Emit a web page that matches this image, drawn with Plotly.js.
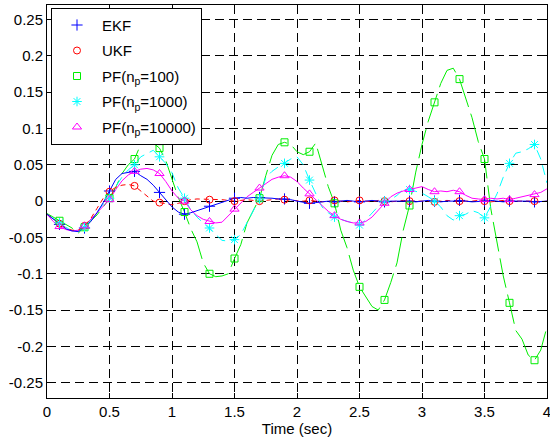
<!DOCTYPE html>
<html>
<head>
<meta charset="utf-8">
<script src="https://cdn.plot.ly/plotly-3.0.1.min.js"></script>
<style>
  html, body { margin: 0; padding: 0; background: #fff; }
  #chart { width: 550px; height: 440px; }
</style>
</head>
<body>
<div id="chart"></div>
<script>
// sample step of the read-off series (seconds)
const DT = 0.05;

const ekf = [
  -0.018, -0.025, -0.032, -0.038, -0.041, -0.042, -0.037, -0.028, -0.016, -0.002,
   0.014,  0.030,  0.038,  0.040,  0.041,  0.035,  0.030,  0.022,  0.012,  0.002,
  -0.008, -0.015, -0.018, -0.016, -0.013, -0.010, -0.007, -0.004, -0.001,  0.002,
   0.004,  0.005,  0.004,  0.005,  0.005,  0.004,  0.004,  0.003,  0.003,  0.002,
   0.000, -0.002, -0.003, -0.002, -0.001,  0.000, -0.001,  0.000,  0.001,  0.000,
  -0.001,  0.000,  0.001,  0.000, -0.001,  0.000,  0.000,  0.001,  0.000, -0.001,
   0.000,  0.001,  0.000, -0.001,  0.000,  0.000,  0.001,  0.000, -0.001, -0.001,
   0.000,  0.001,  0.000, -0.001,  0.000,  0.000,  0.001,  0.000, -0.001,  0.000,
   0.000
];

const ukf = [
  -0.018, -0.024, -0.031, -0.037, -0.040, -0.040, -0.034, -0.024, -0.010,  0.004,
   0.013,  0.019,  0.022,  0.023,  0.021,  0.014,  0.006,  0.000, -0.002, -0.004,
  -0.005, -0.003,  0.000,  0.002,  0.003,  0.003,  0.002,  0.003,  0.002,  0.001,
   0.000,  0.001,  0.002,  0.001,  0.000,  0.001,  0.002,  0.003,  0.002,  0.001,
   0.001,  0.000,  0.001,  0.000, -0.001,  0.000,  0.001,  0.000, -0.001,  0.000,
   0.001,  0.000, -0.001,  0.001,  0.000, -0.001,  0.000,  0.001,  0.000,  0.000,
   0.001,  0.000, -0.001,  0.000,  0.001,  0.000,  0.000, -0.001,  0.000,  0.001,
   0.000, -0.001,  0.000,  0.001,  0.000,  0.000,  0.001,  0.000,  0.000, -0.001,
   0.000
];

const pf100 = [
  -0.017, -0.022, -0.027, -0.031, -0.037, -0.044, -0.036, -0.027, -0.019, -0.008,
   0.004,  0.019,  0.038,  0.050,  0.058,  0.078,  0.085,  0.080,  0.073,  0.056,
   0.032,  0.005, -0.015, -0.038, -0.056, -0.085, -0.100, -0.104, -0.103, -0.100,
  -0.079, -0.060, -0.030, -0.012,  0.004,  0.035,  0.063,  0.078,  0.081,  0.078,
   0.068,  0.064,  0.068,  0.080,  0.050,  0.020, -0.003, -0.040, -0.064, -0.095,
  -0.118, -0.132, -0.145, -0.150, -0.136, -0.112, -0.085, -0.040, -0.006,  0.040,
   0.078,  0.110,  0.136,  0.162,  0.180,  0.183,  0.168,  0.142,  0.115,  0.082,
   0.058, -0.010, -0.056, -0.103, -0.140, -0.178, -0.190, -0.212, -0.219, -0.205,
  -0.173
];

const pf1000 = [
  -0.018, -0.024, -0.030, -0.036, -0.040, -0.041, -0.036, -0.026, -0.015, -0.004,
   0.004,  0.020,  0.033,  0.043,  0.050,  0.061,  0.066,  0.070,  0.061,  0.052,
   0.039,  0.018,  0.004, -0.012, -0.022, -0.030, -0.037, -0.045, -0.054, -0.055,
  -0.053, -0.046, -0.030, -0.012,  0.003,  0.032,  0.041,  0.047,  0.052,  0.058,
   0.061,  0.050,  0.029,  0.010, -0.008, -0.016, -0.022, -0.025, -0.028, -0.030,
  -0.033, -0.026, -0.016, -0.007,  0.000,  0.002,  0.008,  0.016,  0.016,  0.013,
   0.011,  0.006,  0.000, -0.008, -0.020, -0.026, -0.020, -0.018, -0.013, -0.016,
  -0.023, -0.007,  0.010,  0.033,  0.052,  0.066,  0.068,  0.072,  0.078,  0.058,
   0.025
];

const pf10000 = [
  -0.018, -0.028, -0.035, -0.039, -0.041, -0.040, -0.034, -0.025, -0.016, -0.007,
   0.002,  0.016,  0.028,  0.036,  0.041,  0.044,  0.045,  0.043,  0.038,  0.027,
   0.014,  0.004,  0.000, -0.012, -0.020, -0.025, -0.028, -0.030, -0.029, -0.020,
  -0.011, -0.002,  0.006,  0.012,  0.018,  0.025,  0.030,  0.033,  0.035,  0.033,
   0.027,  0.018,  0.010,  0.002, -0.006, -0.014, -0.020, -0.025, -0.028, -0.030,
  -0.030, -0.028, -0.022, -0.012, -0.003,  0.006,  0.011,  0.014,  0.016,  0.019,
   0.020,  0.016,  0.013,  0.014,  0.013,  0.015,  0.013,  0.008,  0.004,  0.003,
   0.002,  0.004,  0.003,  0.004,  0.002,  0.004,  0.006,  0.007,  0.009,  0.012,
   0.017
];

const seriesNames = ['EKF', 'UKF', 'PF(n<sub>p</sub>=100)', 'PF(n<sub>p</sub>=1000)', 'PF(n<sub>p</sub>=10000)'];
const xTicks = [0, 0.5, 1, 1.5, 2, 2.5, 3, 3.5, 4];
const xTickText = ['0', '0.5', '1', '1.5', '2', '2.5', '3', '3.5', '4'];
const yTicks = [0.25, 0.2, 0.15, 0.1, 0.05, 0, -0.05, -0.1, -0.15, -0.2, -0.25];
const yTickText = ['0.25', '0.2', '0.15', '0.1', '0.05', '0', '-0.05', '-0.1', '-0.15', '-0.2', '-0.25'];

const time = ekf.map((_, i) => +(i * DT).toFixed(2));
const pick = arr => arr.filter((_, i) => i % 4 === 2);

const styles = [
  { data: ekf,     color: '#0000ff', dash: 'solid',      symbol: 'cross-thin-open', size: 8 },
  { data: ukf,     color: '#ff0000', dash: '5px,4px',    symbol: 'circle-open',     size: 7 },
  { data: pf100,   color: '#00ee00', dash: '30px,7px',   symbol: 'square-open',     size: 7 },
  { data: pf1000,  color: '#00ffff', dash: '10px,6px',   symbol: 'asterisk-open',   size: 8 },
  { data: pf10000, color: '#ff00ff', dash: 'solid',      symbol: 'triangle-up-open',size: 8 }
];

const drawOrder = [2, 3, 4, 1, 0];
const traces = [];
drawOrder.forEach(k => {
  const s = styles[k];
  traces.push({
    x: time, y: s.data, type: 'scatter', mode: 'lines',
    line: { color: s.color, width: 1, dash: s.dash },
    showlegend: false, hoverinfo: 'skip'
  });
});
styles.forEach((s, k) => {
  traces.push({
    x: pick(time), y: pick(s.data), type: 'scatter', mode: 'markers',
    name: seriesNames[k], legendgroup: 'g' + k,
    marker: { symbol: s.symbol, size: s.size, color: s.color, line: { color: s.color, width: 1 } },
    showlegend: true
  });
});

const axisCommon = {
  showline: true, mirror: 'ticks', linecolor: '#000', linewidth: 1,
  ticks: 'inside', ticklen: 5, tickcolor: '#000',
  showgrid: true, gridcolor: '#000', griddash: '9px,5px', gridwidth: 1,
  zeroline: false,
  tickfont: { family: 'Liberation Sans, Arial, sans-serif', size: 15, color: '#000' },
  tickmode: 'array'
};

const layout = {
  width: 550, height: 440,
  margin: { l: 47, r: 3, t: 5, b: 42 },
  paper_bgcolor: '#fff', plot_bgcolor: '#fff',
  font: { family: 'Liberation Sans, Arial, sans-serif', size: 15, color: '#000' },
  xaxis: Object.assign({}, axisCommon, {
    range: [0, 4], tickvals: xTicks, ticktext: xTickText, ticklabeloverflow: 'allow',
    title: { text: 'Time (sec)', font: { size: 15 }, standoff: 3 }
  }),
  yaxis: Object.assign({}, axisCommon, {
    range: [-0.271, 0.27], tickvals: yTicks, ticktext: yTickText
  }),
  legend: {
    x: 0.008, y: 0.993, xanchor: 'left', yanchor: 'top',
    bgcolor: '#fff', bordercolor: '#000', borderwidth: 1,
    font: { size: 15 }, tracegroupgap: 3, itemwidth: 40,
    traceorder: 'grouped'
  },
  showlegend: true
};

Plotly.newPlot('chart', traces, layout, { displayModeBar: false, staticPlot: true });
</script>
</body>
</html>
